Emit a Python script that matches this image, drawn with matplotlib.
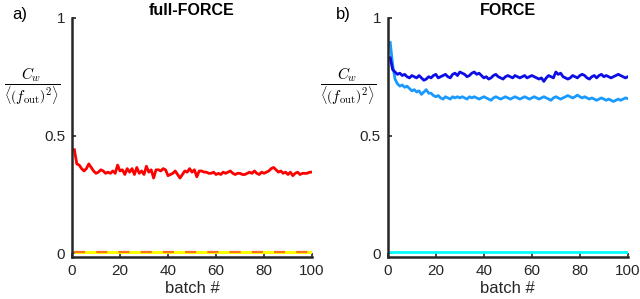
import numpy as np
import matplotlib
matplotlib.use("Agg")
import matplotlib.pyplot as plt

plt.rcParams['font.family'] = ['Liberation Sans', 'DejaVu Sans']
plt.rcParams['mathtext.fontset'] = 'cm'

batch = list(range(1, 101))

full_force_err = [0.44,0.38,0.375,0.36,0.35,0.36,0.38,0.365,0.35,0.34,
                  0.345,0.355,0.35,0.34,0.345,0.34,0.35,0.34,0.375,0.35,
                  0.355,0.335,0.36,0.345,0.36,0.335,0.365,0.34,0.35,0.335,
                  0.37,0.345,0.355,0.32,0.355,0.355,0.35,0.36,0.355,0.33,
                  0.335,0.34,0.35,0.335,0.32,0.335,0.35,0.345,0.36,0.345,
                  0.355,0.325,0.35,0.35,0.345,0.345,0.34,0.34,0.345,0.335,
                  0.34,0.335,0.345,0.34,0.345,0.35,0.34,0.335,0.34,0.34,
                  0.335,0.335,0.34,0.345,0.34,0.35,0.34,0.335,0.345,0.34,
                  0.345,0.35,0.36,0.365,0.355,0.345,0.35,0.34,0.345,0.335,
                  0.345,0.33,0.34,0.345,0.335,0.34,0.34,0.34,0.345,0.345]

full_force_base = [0.005] * 100

force_dark = [0.83,0.78,0.77,0.76,0.765,0.755,0.76,0.75,0.745,0.755,
              0.75,0.745,0.755,0.745,0.735,0.74,0.75,0.745,0.755,0.76,
              0.745,0.75,0.755,0.76,0.75,0.745,0.76,0.765,0.755,0.77,
              0.765,0.76,0.75,0.755,0.765,0.77,0.76,0.765,0.755,0.745,
              0.75,0.74,0.745,0.755,0.76,0.75,0.745,0.74,0.75,0.755,
              0.75,0.745,0.755,0.75,0.745,0.75,0.755,0.745,0.75,0.755,
              0.75,0.745,0.74,0.745,0.73,0.745,0.755,0.75,0.745,0.77,
              0.76,0.765,0.75,0.745,0.74,0.745,0.755,0.75,0.745,0.755,
              0.76,0.755,0.745,0.74,0.75,0.755,0.745,0.755,0.76,0.75,
              0.755,0.75,0.745,0.75,0.755,0.76,0.755,0.75,0.745,0.75]

force_light = [0.895,0.80,0.74,0.72,0.71,0.715,0.705,0.71,0.70,0.69,
               0.695,0.685,0.69,0.675,0.685,0.695,0.68,0.68,0.67,0.665,
               0.67,0.66,0.655,0.665,0.66,0.655,0.665,0.66,0.665,0.66,
               0.665,0.66,0.655,0.665,0.66,0.665,0.66,0.655,0.66,0.665,
               0.66,0.655,0.65,0.66,0.665,0.66,0.655,0.66,0.665,0.66,
               0.655,0.66,0.665,0.66,0.655,0.66,0.665,0.66,0.655,0.66,
               0.665,0.66,0.655,0.66,0.665,0.66,0.655,0.65,0.66,0.665,
               0.66,0.655,0.66,0.665,0.67,0.665,0.66,0.665,0.672,0.665,
               0.66,0.665,0.66,0.655,0.66,0.655,0.65,0.655,0.66,0.655,
               0.65,0.655,0.65,0.645,0.65,0.655,0.65,0.655,0.66,0.657]

force_base = [0.005] * 100

xticks = [0, 20, 40, 60, 80, 100]
yticks = [0, 0.5, 1]
yticklabels = ['0', '0.5', '1']

ylab = r'$\dfrac{C_w}{\left\langle \left(f_\mathrm{out}\right)^2 \right\rangle}$'

fig = plt.figure(figsize=(6.4, 2.99), dpi=100)
ax1 = fig.add_axes([0.1125, 0.1405, 0.375, 0.80])
ax2 = fig.add_axes([0.606, 0.1405, 0.375, 0.80])

ax1.plot(batch, full_force_base, color=(1, 1, 0), lw=2.2, solid_capstyle='butt')
ax1.plot(batch, full_force_base, color=(1, 0.45, 0.1), lw=1.6, dashes=(5, 5))
ax1.plot(batch, full_force_err, color=(1, 0, 0), lw=2.0)

ax2.plot(batch, force_base, color=(0, 1, 1), lw=2.0)
ax2.plot(batch, force_light, color=(0.1, 0.6, 1), lw=2.0)
ax2.plot(batch, force_dark, color=(0.05, 0.05, 0.9), lw=2.0)

for ax, title, lab in [(ax1, 'full-FORCE', 'a)'), (ax2, 'FORCE', 'b)')]:
    ax.set_xlim(0, 100)
    ax.set_ylim(-0.015, 1)
    ax.set_xticks(xticks)
    ax.set_yticks(yticks)
    ax.set_yticklabels(yticklabels)
    for s in ['top', 'right']:
        ax.spines[s].set_visible(False)
    for s in ['left', 'bottom']:
        ax.spines[s].set_linewidth(1.8)
        ax.spines[s].set_color('#262626')
    ax.tick_params(direction='in', length=3, width=1.2, colors='#262626',
                   labelsize=11, pad=5)
    ax.set_xlabel('batch #', fontsize=12, color='#262626', labelpad=2)
    ax.set_title(title, fontsize=11.5, fontweight='bold', pad=2)
    ax.set_ylabel(ylab, fontsize=11, rotation=0, labelpad=8, va='center')
    ax.yaxis.set_label_coords(-0.165, 0.715)

fig.text(12/640, 1 - 14/299, 'a)', fontsize=12, va='center', ha='left')
fig.text(336/640, 1 - 14/299, 'b)', fontsize=12, va='center', ha='left')

fig.savefig('out.png', dpi=100)
